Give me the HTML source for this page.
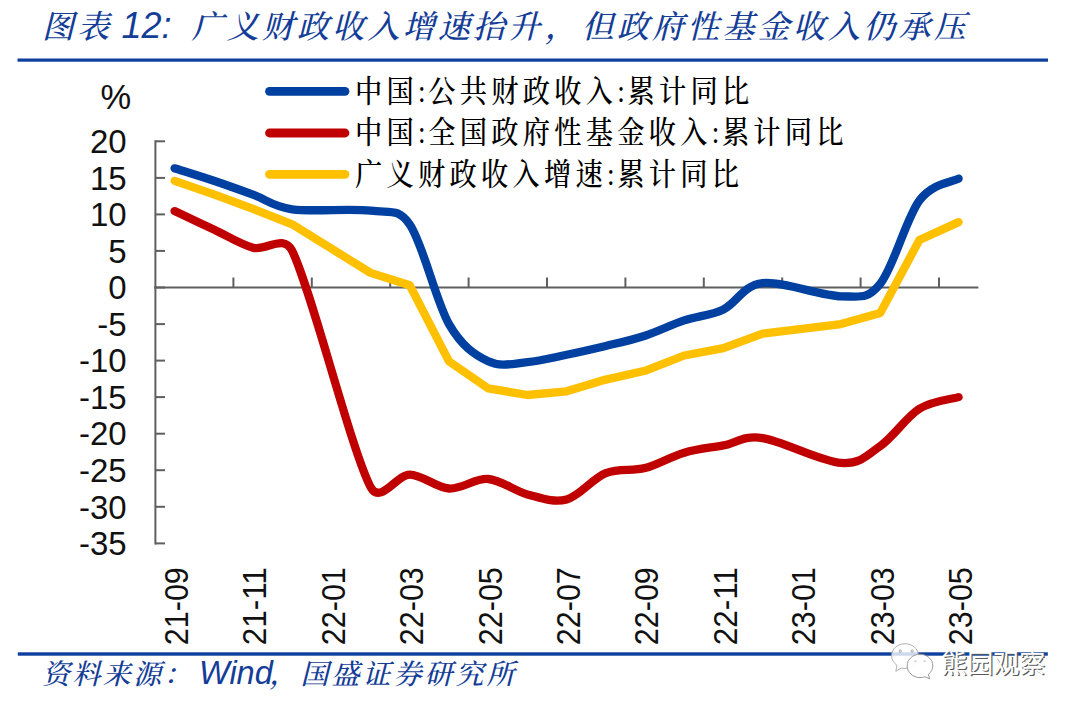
<!DOCTYPE html>
<html><head><meta charset="utf-8">
<style>
html,body{margin:0;padding:0;background:#fff;}
body{width:1080px;height:710px;overflow:hidden;position:relative;}
svg{position:absolute;left:0;top:0;}
.ax{font-family:"Liberation Sans","DejaVu Sans",sans-serif;font-size:33px;fill:#111;}
.lg{font-family:"Liberation Serif","Noto Serif CJK SC",serif;font-size:31px;font-weight:500;fill:#000;}
.tt{font-family:"Noto Serif CJK SC",serif;font-style:italic;font-weight:500;fill:#143D97;}
.tl{font-family:"Liberation Sans",sans-serif;font-style:italic;fill:#143D97;}
.wm{font-family:"Noto Sans CJK SC",sans-serif;font-size:26px;}
</style></head><body>
<svg width="1080" height="710" viewBox="0 0 1080 710">
<rect width="1080" height="710" fill="#fff"/>
<text class="tt" x="42" y="37.9" font-size="32" letter-spacing="3.2">图表</text>
<text class="tl" x="121.5" y="37.9" font-size="36">12:</text>
<text class="tt" x="191.5" y="37.9" font-size="32" letter-spacing="3.2">广义财政收入增速抬升<tspan dx="1.5">，</tspan><tspan dx="1.5">但政府性基金收入仍承压</tspan></text>
<rect x="17.5" y="58.5" width="1030.5" height="3.2" fill="#0D3F9F"/>
<g stroke-linecap="butt">
<line x1="155.4" y1="140.2" x2="155.4" y2="544.4" stroke="#5F5F5F" stroke-width="2"/>
<line x1="155" y1="141.3" x2="165" y2="141.3" stroke="#5F5F5F" stroke-width="2"/>
<line x1="155" y1="177.9" x2="165" y2="177.9" stroke="#5F5F5F" stroke-width="2"/>
<line x1="155" y1="214.4" x2="165" y2="214.4" stroke="#5F5F5F" stroke-width="2"/>
<line x1="155" y1="250.9" x2="165" y2="250.9" stroke="#5F5F5F" stroke-width="2"/>
<line x1="155" y1="287.5" x2="165" y2="287.5" stroke="#5F5F5F" stroke-width="2"/>
<line x1="155" y1="324.1" x2="165" y2="324.1" stroke="#5F5F5F" stroke-width="2"/>
<line x1="155" y1="360.6" x2="165" y2="360.6" stroke="#5F5F5F" stroke-width="2"/>
<line x1="155" y1="397.1" x2="165" y2="397.1" stroke="#5F5F5F" stroke-width="2"/>
<line x1="155" y1="433.7" x2="165" y2="433.7" stroke="#5F5F5F" stroke-width="2"/>
<line x1="155" y1="470.2" x2="165" y2="470.2" stroke="#5F5F5F" stroke-width="2"/>
<line x1="155" y1="506.8" x2="165" y2="506.8" stroke="#5F5F5F" stroke-width="2"/>
<line x1="155" y1="543.4" x2="165" y2="543.4" stroke="#5F5F5F" stroke-width="2"/>
<line x1="154" y1="287.5" x2="978.4" y2="287.5" stroke="#5F5F5F" stroke-width="2"/>
<line x1="233.4" y1="277.5" x2="233.4" y2="287.5" stroke="#5F5F5F" stroke-width="2"/>
<line x1="311.8" y1="277.5" x2="311.8" y2="287.5" stroke="#5F5F5F" stroke-width="2"/>
<line x1="390.2" y1="277.5" x2="390.2" y2="287.5" stroke="#5F5F5F" stroke-width="2"/>
<line x1="468.6" y1="277.5" x2="468.6" y2="287.5" stroke="#5F5F5F" stroke-width="2"/>
<line x1="547" y1="277.5" x2="547" y2="287.5" stroke="#5F5F5F" stroke-width="2"/>
<line x1="625.4" y1="277.5" x2="625.4" y2="287.5" stroke="#5F5F5F" stroke-width="2"/>
<line x1="703.8" y1="277.5" x2="703.8" y2="287.5" stroke="#5F5F5F" stroke-width="2"/>
<line x1="782.2" y1="277.5" x2="782.2" y2="287.5" stroke="#5F5F5F" stroke-width="2"/>
<line x1="860.6" y1="277.5" x2="860.6" y2="287.5" stroke="#5F5F5F" stroke-width="2"/>
<line x1="939" y1="277.5" x2="939" y2="287.5" stroke="#5F5F5F" stroke-width="2"/>
</g>
<g class="ax">
<text x="100.5" y="108.6" font-size="34.5">%</text>
<text x="126.6" y="153" text-anchor="end">20</text>
<text x="126.6" y="189.6" text-anchor="end">15</text>
<text x="126.6" y="226.1" text-anchor="end">10</text>
<text x="126.6" y="262.6" text-anchor="end">5</text>
<text x="126.6" y="299.2" text-anchor="end">0</text>
<text x="126.6" y="335.8" text-anchor="end">-5</text>
<text x="126.6" y="372.3" text-anchor="end">-10</text>
<text x="126.6" y="408.8" text-anchor="end">-15</text>
<text x="126.6" y="445.4" text-anchor="end">-20</text>
<text x="126.6" y="481.9" text-anchor="end">-25</text>
<text x="126.6" y="518.5" text-anchor="end">-30</text>
<text x="126.6" y="555.1" text-anchor="end">-35</text>
<text transform="translate(188 645.2) rotate(-90)" x="0" y="0" textLength="78" lengthAdjust="spacingAndGlyphs">21-09</text>
<text transform="translate(266.4 645.2) rotate(-90)" x="0" y="0" textLength="78" lengthAdjust="spacingAndGlyphs">21-11</text>
<text transform="translate(344.8 645.2) rotate(-90)" x="0" y="0" textLength="78" lengthAdjust="spacingAndGlyphs">22-01</text>
<text transform="translate(423.2 645.2) rotate(-90)" x="0" y="0" textLength="78" lengthAdjust="spacingAndGlyphs">22-03</text>
<text transform="translate(501.6 645.2) rotate(-90)" x="0" y="0" textLength="78" lengthAdjust="spacingAndGlyphs">22-05</text>
<text transform="translate(580 645.2) rotate(-90)" x="0" y="0" textLength="78" lengthAdjust="spacingAndGlyphs">22-07</text>
<text transform="translate(658.4 645.2) rotate(-90)" x="0" y="0" textLength="78" lengthAdjust="spacingAndGlyphs">22-09</text>
<text transform="translate(736.8 645.2) rotate(-90)" x="0" y="0" textLength="78" lengthAdjust="spacingAndGlyphs">22-11</text>
<text transform="translate(815.2 645.2) rotate(-90)" x="0" y="0" textLength="78" lengthAdjust="spacingAndGlyphs">23-01</text>
<text transform="translate(893.6 645.2) rotate(-90)" x="0" y="0" textLength="78" lengthAdjust="spacingAndGlyphs">23-03</text>
<text transform="translate(972 645.2) rotate(-90)" x="0" y="0" textLength="78" lengthAdjust="spacingAndGlyphs">23-05</text>
</g>
<g fill="none" stroke-linecap="round" stroke-linejoin="round" stroke-width="8.3">
<path d="M174.6 180.8 L213.8 194.3 L253 208.9 L292.2 224.3 L370.6 272.9 L409.8 285.3 L449 361.3 L488.2 388.4 L527.4 395 L566.6 391.3 L605.8 379.6 L645 370.8 L684.2 355.5 L723.4 348.2 L762.6 333.6 L841 324.1 L880.2 313.1 L919.4 240 L958.6 222.1" stroke="#FFC000"/>
<path d="M174.6 211.1 C181.1 214.2 200.7 223.3 213.8 229.4 C226.9 235.5 239.9 244.1 253 247.7 C266.1 251.3 283.5 233.3 292.2 250.9 C311.8 290.9 351 449.8 370.6 487.1 C380.2 505.3 396.7 474.4 409.8 474.6 C422.9 474.9 435.9 487.8 449 488.5 C462.1 489.3 475.1 478 488.2 479 C501.3 480 514.3 491 527.4 494.4 C540.5 497.8 553.5 503 566.6 499.5 C579.7 496 592.7 478.4 605.8 473.2 C618.9 467.9 631.9 471.5 645 468.1 C658.1 464.6 671.1 456.5 684.2 452.7 C697.3 448.9 710.3 447.8 723.4 445.4 C736.5 443 743 435.2 762.6 438.1 C782.2 441 821.4 461.6 841 462.9 C860.6 464.3 867.1 455.1 880.2 446.1 C893.3 437.1 906.3 417 919.4 408.8 C932.5 400.7 952.1 399.1 958.6 397.1" stroke="#C00000"/>
<path d="M174.6 168.3 C181.1 170.4 200.7 176.4 213.8 180.8 C226.9 185.2 239.9 189.9 253 194.7 C266.1 199.4 272.6 206.6 292.2 209.3 C311.8 212 351 208.2 370.6 210.7 C390.2 213.3 398 207.5 409.8 224.6 C422.9 243.5 435.9 301.3 449 324.1 C462.1 346.8 475.1 355 488.2 361.3 C501.3 367.7 514.3 363.2 527.4 362.1 C540.5 361 553.5 357.4 566.6 354.8 C579.7 352.1 592.7 349.1 605.8 346 C618.9 342.8 631.9 340 645 335.7 C658.1 331.5 671.1 324.8 684.2 320.4 C697.3 316 710.3 315.6 723.4 309.4 C736.5 303.2 743 285.3 762.6 283.1 C782.2 280.9 821.4 296.2 841 296.3 C860.6 296.4 867.2 299.8 880.2 283.8 C893.3 267.9 906.3 218.1 919.4 200.5 C932.5 183 952.1 182.2 958.6 178.6" stroke="#0040A0"/>
<line x1="269.5" y1="91.3" x2="345" y2="91.3" stroke="#0040A0" stroke-width="8.8"/>
<line x1="269.5" y1="133" x2="345" y2="133" stroke="#C00000" stroke-width="8.8"/>
<line x1="269.5" y1="174.3" x2="345" y2="174.3" stroke="#FFC000" stroke-width="8.8"/>
</g>
<g class="lg">
<text transform="translate(355 101.8) scale(0.88 1)" letter-spacing="4.8">中国<tspan letter-spacing="3.0">:</tspan>公共财政收入<tspan letter-spacing="3.0">:</tspan>累计同比</text>
<text transform="translate(355 143.3) scale(0.88 1)" letter-spacing="4.8">中国<tspan letter-spacing="3.0">:</tspan>全国政府性基金收入<tspan letter-spacing="3.0">:</tspan>累计同比</text>
<text transform="translate(355 184.8) scale(0.88 1)" letter-spacing="4.8">广义财政收入增速<tspan letter-spacing="3.0">:</tspan>累计同比</text>
</g>
<rect x="17.8" y="652.3" width="1030" height="3.4" fill="#0D3F9F"/>
<text class="tt" x="42" y="684.4" font-size="28" letter-spacing="2.4">资料来源：</text>
<text class="tl" x="199" y="684.4" font-size="32.5">Wind</text>
<text class="tt" x="269.5" y="684.4" font-size="28" letter-spacing="3.0">，国盛证券研究所</text>
<g>
<path d="M905 643.7 C897.6 643.7 891.6 649 891.6 655.5 C891.6 659.6 893.7 663.1 897 665.3 L895.8 671.3 L901.3 668 C902.5 668.3 903.7 668.4 905 668.4 C912.4 668.4 918.4 661.9 918.4 655.5 C918.4 649 912.4 643.7 905 643.7 Z" fill="rgba(255,255,255,0.8)" stroke="#a8a8a8" stroke-width="0.9"/>
<path d="M920 654.2 C912.9 654.2 907.2 659.4 907.2 665.9 C907.2 672.4 912.9 677.6 920 677.6 C921.7 677.6 923.4 677.3 925 676.7 L929.6 678.9 L928.4 674.3 C931.1 672.2 932.8 669.2 932.8 665.9 C932.8 659.4 927.1 654.2 920 654.2 Z" fill="rgba(255,255,255,0.92)" stroke="#8e8e8e" stroke-width="0.9"/>
<ellipse cx="900.2" cy="651" rx="1.1" ry="1.3" fill="none" stroke="#999" stroke-width="0.8"/>
<ellipse cx="912.2" cy="651" rx="1.1" ry="1.3" fill="none" stroke="#999" stroke-width="0.8"/>
<path d="M914.6 661.8 q0.8 -2.2 1.6 0 M923.8 661.8 q0.8 -2.2 1.6 0" fill="none" stroke="#9a9a9a" stroke-width="0.8"/>
</g>
<text class="wm" x="942.6" y="674.4" fill="#5a5a5a">熊园观察</text>
<text class="wm" x="941.3" y="673" fill="#ffffff">熊园观察</text>
</svg>
</body></html>
